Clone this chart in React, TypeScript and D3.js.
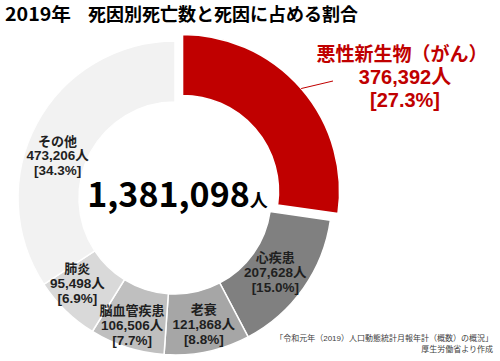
import React from "react";
import * as d3 from "d3";

const categories = ["悪性新生物（がん）", "心疾患", "老衰", "脳血管疾患", "肺炎", "その他"];
const deaths = [376392, 207628, 121868, 106506, 95498, 473206];
const shares = ["27.3%", "15.0%", "8.8%", "7.7%", "6.9%", "34.3%"];
const colors = ["#c00000", "#808080", "#a6a6a6", "#bfbfbf", "#d9d9d9", "#f2f2f2"];
const totalDeaths = 1381098;
const titleYear = "2019年";
const titleMain = "死因別死亡数と死因に占める割合";
const sourceLines = ["「令和元年（2019）人口動態統計月報年計（概数）の概況」", "厚生労働省より作成"];

const W = 500;
const H = 361;
const cx = 175;
const cy = 198;
const outerR = 157;
const innerR = 96;
const explode = 10;
const FONT = "'Noto Sans CJK JP', 'Noto Sans', sans-serif";
const LABEL_FONT = "'Liberation Sans', 'Noto Sans CJK JP', sans-serif";

// label nudges (layout only)
const labelNudge: Record<string, [number, number]> = {
  "心疾患": [-6, 4],
  "老衰": [2, 4],
  "脳血管疾患": [-3, 8],
  "肺炎": [-7, -3],
  "その他": [-3, 24],
};

const fmt = d3.format(",");

export default function App() {
  const data = categories.map((c, i) => ({ name: c, value: deaths[i], share: shares[i], color: colors[i] }));
  const pie = d3.pie<any>().sort(null).value((d: any) => d.value);
  const arcs = pie(data);
  const arc = d3.arc<any>().innerRadius(innerR).outerRadius(outerR);
  const labelArc = d3.arc<any>().innerRadius(130).outerRadius(130);

  const red = arcs[0];
  const redMid = (red.startAngle + red.endAngle) / 2;
  const ex = Math.sin(redMid) * explode;
  const ey = -Math.cos(redMid) * explode;
  const leadStart = [cx + ex + Math.sin(redMid) * outerR, cy + ey - Math.cos(redMid) * outerR];
  const leadEnd = [333, 81];
  const lh = 14.8;

  return (
    <svg width={W} height={H} style={{ position: "absolute", left: 0, top: 0, background: "#fff" }} fontFamily={FONT}>
      <text x={5} y={21} fontSize={18} fontWeight="bold" fill="#000" textLength={66} lengthAdjust="spacingAndGlyphs">{titleYear}</text>
      <text x={88} y={21} fontSize={18} fontWeight="bold" fill="#000">{titleMain}</text>

      <g transform={`translate(${cx},${cy})`}>
        {arcs.map((a, i) => {
          const off = i === 0 ? `translate(${ex},${ey})` : "";
          return (
            <path key={i} d={arc(a) as string} fill={a.data.color} stroke="#fff" strokeWidth={1.5} transform={off} />
          );
        })}
      </g>

      <line x1={leadStart[0]} y1={leadStart[1]} x2={leadEnd[0]} y2={leadEnd[1]} stroke="#c00000" strokeWidth={1} />
      <text fill="#c00000" fontSize={19} fontWeight="bold" textAnchor="middle" fontFamily={LABEL_FONT}>
        <tspan x={402} y={61}>{categories[0]}</tspan>
        <tspan x={405} y={84} fontSize={20}>{fmt(deaths[0]) + "人"}</tspan>
        <tspan x={405} y={106.5} fontSize={20}>{"[" + shares[0] + "]"}</tspan>
      </text>

      {arcs.slice(1).map((a, i) => {
        const [lx, ly] = labelArc.centroid(a);
        const n = labelNudge[a.data.name] || [0, 0];
        const x = cx + lx + n[0];
        const y = cy + ly + n[1];
        return (
          <text key={i} fill="#1f1f1f" fontSize={13} fontWeight="bold" textAnchor="middle" fontFamily={LABEL_FONT}>
            <tspan x={x} y={y - lh}>{a.data.name}</tspan>
            <tspan x={x} y={y} fontSize={13.5}>{fmt(a.data.value) + "人"}</tspan>
            <tspan x={x} y={y + lh} fontSize={13.5}>{"[" + a.data.share + "]"}</tspan>
          </text>
        );
      })}

      <text x={cx + 2.5} y={207} textAnchor="middle" fontWeight="bold" fill="#000">
        <tspan fontSize={34}>{fmt(totalDeaths)}</tspan>
        <tspan fontSize={18}>人</tspan>
      </text>

      <text fill="#404040" fontSize={8} textAnchor="end" fontFamily={LABEL_FONT}>
        <tspan x={493} y={341}>{sourceLines[0]}</tspan>
        <tspan x={493} y={352}>{sourceLines[1]}</tspan>
      </text>
    </svg>
  );
}
